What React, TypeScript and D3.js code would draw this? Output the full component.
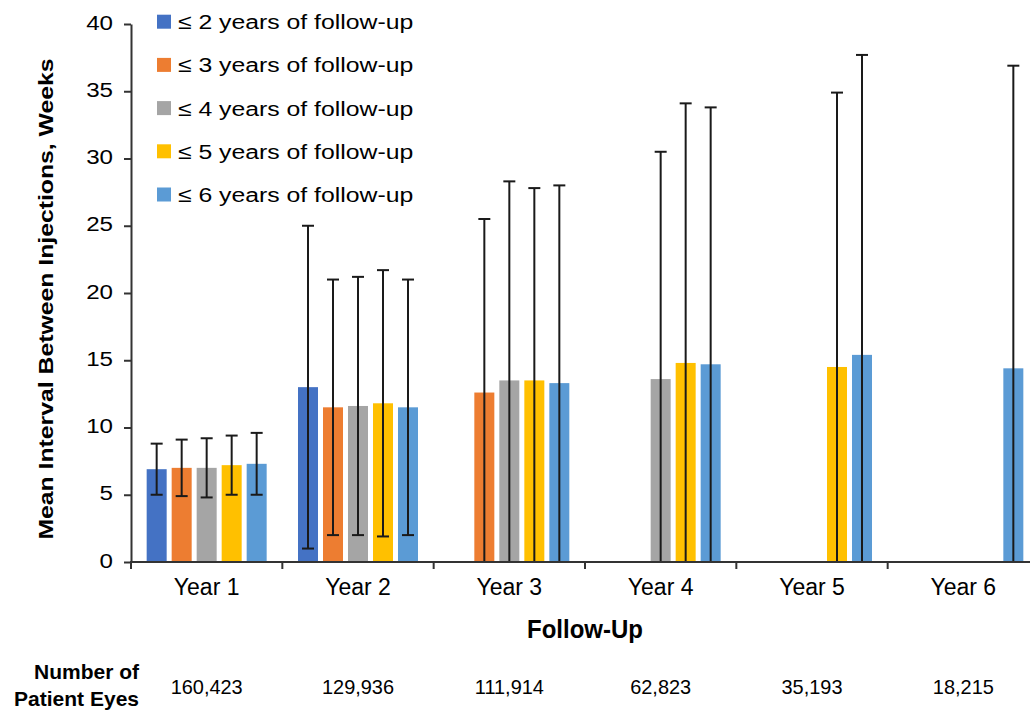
import React, { useEffect, useRef } from "react";
import * as d3 from "d3";

const years = ["Year 1", "Year 2", "Year 3", "Year 4", "Year 5", "Year 6"];
const patientEyes = ["160,423", "129,936", "111,914", "62,823", "35,193", "18,215"];

const seriesNames = [
  "≤ 2 years of follow-up",
  "≤ 3 years of follow-up",
  "≤ 4 years of follow-up",
  "≤ 5 years of follow-up",
  "≤ 6 years of follow-up",
];
const seriesColors = ["#4472C4", "#ED7D31", "#A5A5A5", "#FFC000", "#5B9BD5"];

// mean interval (weeks) per series, one value per year (null = no bar)
const mean2 = [6.9, 13.0, null, null, null, null];
const mean3 = [7.0, 11.5, 12.6, null, null, null];
const mean4 = [7.0, 11.6, 13.5, 13.6, null, null];
const mean5 = [7.2, 11.8, 13.5, 14.8, 14.5, null];
const mean6 = [7.3, 11.5, 13.3, 14.7, 15.4, 14.4];

// error bar ends
const upper2 = [8.8, 25.0, null, null, null, null];
const upper3 = [9.1, 21.0, 25.5, null, null, null];
const upper4 = [9.2, 21.2, 28.3, 30.5, null, null];
const upper5 = [9.4, 21.7, 27.8, 34.1, 34.9, null];
const upper6 = [9.6, 21.0, 28.0, 33.8, 37.7, 36.9];

const lower2 = [5.0, 1.0, null, null, null, null];
const lower3 = [4.9, 2.0, -0.3, null, null, null];
const lower4 = [4.8, 2.0, -1.3, -3.3, null, null];
const lower5 = [5.0, 1.9, -0.8, -4.5, -5.9, null];
const lower6 = [5.0, 2.0, -1.4, -4.4, -6.9, -8.1];

const means = [mean2, mean3, mean4, mean5, mean6];
const uppers = [upper2, upper3, upper4, upper5, upper6];
const lowers = [lower2, lower3, lower4, lower5, lower6];

const yTicks = [0, 5, 10, 15, 20, 25, 30, 35, 40];

const FONT = "'Liberation Sans', Arial, sans-serif";

export default function App() {
  const svgRef = useRef<SVGSVGElement>(null);

  useEffect(() => {
    const svg = d3.select(svgRef.current);
    svg.selectAll("*").remove();

    const left = 131;
    const right = 1039;
    const top = 24;
    const bottom = 562;

    const x = d3.scaleBand<string>().domain(years).range([left, right]).padding(0);
    const inner = d3
      .scaleBand<number>()
      .domain(d3.range(seriesNames.length))
      .range([-62.5, 62.5])
      .paddingInner(0.2)
      .paddingOuter(0.1);
    const y = d3.scaleLinear().domain([0, 40]).range([bottom, top]);

    const rows = years
      .flatMap((yr, i) =>
        seriesNames.map((s, k) => ({
          yr,
          k,
          mean: means[k][i],
          hi: uppers[k][i],
          lo: lowers[k][i],
        }))
      )
      .filter((d) => d.mean != null);

    const cx = (d: any) => x(d.yr)! + x.bandwidth() / 2 + inner(d.k)! + inner.bandwidth() / 2;

    // bars
    svg
      .append("g")
      .selectAll("rect")
      .data(rows)
      .join("rect")
      .attr("x", (d) => x(d.yr)! + x.bandwidth() / 2 + inner(d.k)!)
      .attr("y", (d) => y(d.mean as number))
      .attr("width", inner.bandwidth())
      .attr("height", (d) => y(0) - y(d.mean as number))
      .attr("fill", (d) => seriesColors[d.k]);

    // error bars
    const err = svg.append("g").attr("stroke", "#1a1a1a").attr("stroke-width", 2);
    err
      .selectAll("line.v")
      .data(rows)
      .join("line")
      .attr("class", "v")
      .attr("x1", cx)
      .attr("x2", cx)
      .attr("y1", (d) => y(Math.max(0, d.lo as number)))
      .attr("y2", (d) => y(d.hi as number));
    err
      .selectAll("line.hi")
      .data(rows)
      .join("line")
      .attr("class", "hi")
      .attr("x1", (d) => cx(d) - 6)
      .attr("x2", (d) => cx(d) + 6)
      .attr("y1", (d) => y(d.hi as number))
      .attr("y2", (d) => y(d.hi as number));
    err
      .selectAll("line.lo")
      .data(rows.filter((d) => (d.lo as number) > 0))
      .join("line")
      .attr("class", "lo")
      .attr("x1", (d) => cx(d) - 6)
      .attr("x2", (d) => cx(d) + 6)
      .attr("y1", (d) => y(d.lo as number))
      .attr("y2", (d) => y(d.lo as number));

    // y axis
    const yAxis = svg
      .append("g")
      .attr("transform", `translate(${left},0)`)
      .call(d3.axisLeft(y).tickValues(yTicks).tickSize(7).tickSizeOuter(0));
    yAxis.selectAll("path, line").attr("stroke", "#333").attr("stroke-width", 2);
    yAxis
      .selectAll("text")
      .attr("x", null)
      .attr("dy", "0.24em")
      .attr("transform", "translate(-18,0) scale(1.15,1)")
      .style("font-family", FONT)
      .style("font-size", "21px")
      .style("fill", "#000");

    // x axis
    const xa = svg.append("g").attr("stroke", "#333").attr("stroke-width", 2);
    xa.append("line").attr("x1", left - 1).attr("x2", right).attr("y1", bottom).attr("y2", bottom);
    xa.selectAll("line.t")
      .data([...years.map((d) => x(d)!), right])
      .join("line")
      .attr("class", "t")
      .attr("x1", (d) => d)
      .attr("x2", (d) => d)
      .attr("y1", bottom)
      .attr("y2", bottom + 7);

    svg
      .append("g")
      .selectAll("text")
      .data(years)
      .join("text")
      .attr("x", (d) => x(d)! + x.bandwidth() / 2)
      .attr("y", 595)
      .attr("text-anchor", "middle")
      .style("font-family", FONT)
      .style("font-size", "23px")
      .text((d) => d);

    // patient eye counts
    svg
      .append("g")
      .selectAll("text")
      .data(patientEyes)
      .join("text")
      .attr("transform", (d, i) => `translate(${x(years[i])! + x.bandwidth() / 2},694) scale(0.95,1)`)
      .attr("text-anchor", "middle")
      .style("font-family", FONT)
      .style("font-size", "21px")
      .text((d) => d);

    const rowLabel = svg
      .append("text")
      .attr("text-anchor", "end")
      .style("font-family", FONT)
      .style("font-size", "21px")
      .style("font-weight", "bold");
    rowLabel.append("tspan").attr("x", 139).attr("y", 679).text("Number of");
    rowLabel.append("tspan").attr("x", 139).attr("y", 706).text("Patient Eyes");

    // axis titles
    svg
      .append("text")
      .attr("transform", `translate(${(left + right) / 2},638) scale(1,1.1)`)
      .attr("text-anchor", "middle")
      .style("font-family", FONT)
      .style("font-size", "24px")
      .style("font-weight", "bold")
      .text("Follow-Up");

    svg
      .append("text")
      .attr("transform", "translate(53,299) rotate(-90) scale(1.18,1)")
      .attr("text-anchor", "middle")
      .style("font-family", FONT)
      .style("font-size", "21px")
      .style("font-weight", "bold")
      .text("Mean Interval Between Injections, Weeks");

    // legend
    const lg = svg
      .append("g")
      .selectAll("g")
      .data(seriesNames)
      .join("g")
      .attr("transform", (d, i) => `translate(157,${21.7 + i * 43.2})`);
    lg.append("rect")
      .attr("x", 0)
      .attr("y", -7)
      .attr("width", 14)
      .attr("height", 14)
      .attr("fill", (d, i) => seriesColors[i]);
    lg.append("text")
      .attr("transform", "translate(21,7.5) scale(1.18,1)")
      .style("font-family", FONT)
      .style("font-size", "21px")
      .text((d) => d);
  }, []);

  return (
    <svg
      ref={svgRef}
      width={1030}
      height={711}
      style={{ position: "absolute", left: 0, top: 0, background: "#fff" }}
    ></svg>
  );
}
